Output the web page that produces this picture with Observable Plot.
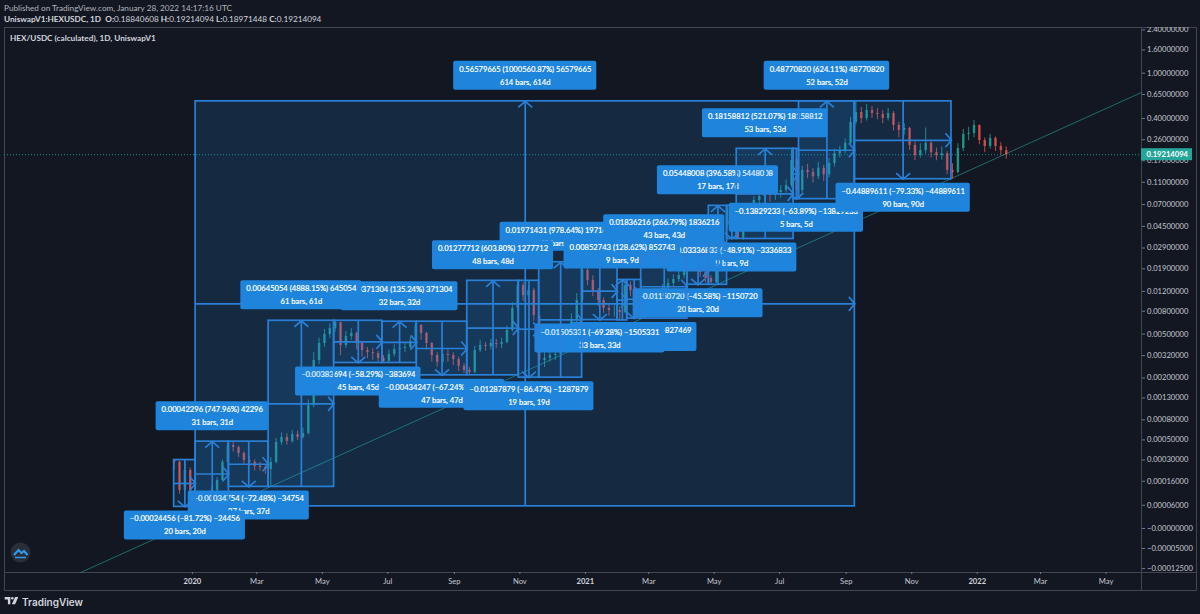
<!DOCTYPE html>
<html><head><meta charset="utf-8">
<script src="https://cdn.jsdelivr.net/npm/d3@7"></script>
<script src="https://cdn.jsdelivr.net/npm/@observablehq/plot@0.6"></script>
<style>
html,body{margin:0;padding:0;background:#131722;width:1200px;height:614px;overflow:hidden;font-family:Lato,sans-serif}
#page{position:relative;width:1200px;height:614px}
.h{position:absolute;left:4px;color:#b2b5be;font-size:8.2px;white-space:nowrap;line-height:10px}
.line{position:absolute;background:#434651}
#chart{position:absolute;left:0;top:27px;z-index:1}
#title{position:absolute;left:10px;top:33px;color:#d1d4dc;font-size:8.2px;font-weight:700;z-index:2;white-space:nowrap}
#brand{position:absolute;left:22px;top:596px;color:#d1d4dc;font:600 10px Inter,sans-serif;white-space:nowrap}
svg.ic{position:absolute;z-index:2}
</style></head><body>
<div id="page">
<div class="h" style="top:3px">Published on TradingView.com, January 28, 2022 14:17:16 UTC</div>
<div class="h" style="top:14px;color:#d1d4dc"><b>UniswapV1:HEXUSDC, 1D</b>&nbsp; <b>O:</b>0.18840608 <b>H:</b>0.19214094 <b>L:</b>0.18971448 <b>C:</b>0.19214094</div>
<div class="line" style="left:4px;top:27px;width:1192px;height:1px"></div>
<div class="line" style="left:4px;top:590px;width:1192px;height:1px"></div>
<div class="line" style="left:4px;top:27px;width:1px;height:563px"></div>
<div class="line" style="left:1196px;top:27px;width:1px;height:564px"></div>
<div class="line" style="left:1141px;top:27px;width:1px;height:563px"></div>
<div class="line" style="left:4px;top:572px;width:1192px;height:1px"></div>
<div id="title">HEX/USDC (calculated), 1D, UniswapV1</div>
<div id="chart"></div>
<svg class="ic" style="left:10px;top:542px" width="21" height="21" viewBox="0 0 21 21"><circle cx="10.5" cy="10.5" r="10" fill="#2a2e39"/><path d="M4 13 L8.5 8 L11.5 11 L14 9 L17.5 13" fill="none" stroke="#2f9be8" stroke-width="2.2"/><path d="M5 15.5 H16" stroke="#2f9be8" stroke-width="1.5"/></svg>
<svg class="ic" style="left:4px;top:597px" width="15" height="8" viewBox="0 0 17 10"><path d="M0 0H7V9H4V3H0Z M13 0H17L13 9H9Z" fill="#d1d4dc"/><circle cx="9.5" cy="1.6" r="1.6" fill="#d1d4dc"/></svg>
<div id="brand">TradingView</div>
</div>
<script>
// ---------- axis ticks ----------
const yTickValues = [2.4,1.6,1,0.65,0.4,0.26,0.17,0.11,0.07,0.045,0.029,0.019,0.012,0.008,0.005,0.0032,0.002,0.0013,0.0008,0.0005,0.0003,0.00016,0.00006,0,-0.00005,-0.000125];
const yTickLabels = ["2.40000000","1.60000000","1.00000000","0.65000000","0.40000000","0.26000000","0.17000000","0.11000000","0.07000000","0.04500000","0.02900000","0.01900000","0.01200000","0.00800000","0.00500000","0.00320000","0.00200000","0.00130000","0.00080000","0.00050000","0.00030000","0.00016000","0.00006000","−0.00000000","−0.00005000","−0.00012500"];
const monthTicks = ["2020-03-01","2020-05-01","2020-07-01","2020-09-01","2020-11-01","2021-03-01","2021-05-01","2021-07-01","2021-09-01","2021-11-01","2022-03-01","2022-05-01"];
const monthLabels = ["Mar","May","Jul","Sep","Nov","Mar","May","Jul","Sep","Nov","Mar","May"];
const yearTicks = ["2020-01-01","2021-01-01","2022-01-01"];
const yearLabels = ["2020","2021","2022"];

// ---------- price (sampled every five days from the first bar) ----------
const firstBar = "2019-12-15";
const barStepDays = 5;
const firstOpen = 0.000299;
const closes = [0.000281,0.000116,0.000223,0.0000949,0.0000655,0.0000835,0.0000949,0.000116,0.000164,0.000281,0.000436,0.000415,0.000356,0.000296,0.000281,0.000251,0.000243,0.00023,0.000281,0.00047,0.00053,0.000482,0.00057,0.00053,0.000583,0.0011,0.00289,0.00412,0.00497,0.00562,0.00635,0.00395,0.00476,0.00507,0.00412,0.00356,0.00341,0.00334,0.00302,0.00284,0.00328,0.00364,0.00371,0.00379,0.0043,0.00598,0.00507,0.00412,0.00321,0.00278,0.00328,0.00321,0.00295,0.00256,0.00235,0.00225,0.00356,0.00395,0.00387,0.00412,0.00404,0.00421,0.00539,0.00846,0.0135,0.011,0.0122,0.00734,0.00289,0.00302,0.00321,0.00328,0.00356,0.00439,0.00662,0.00997,0.0184,0.015,0.0122,0.00997,0.00846,0.00813,0.00813,0.00782,0.0135,0.0122,0.00901,0.00782,0.00901,0.00997,0.0108,0.0127,0.0141,0.0153,0.0166,0.0191,0.0244,0.0203,0.0177,0.0156,0.0144,0.0225,0.0458,0.0646,0.0458,0.0353,0.0458,0.0621,0.0761,0.0825,0.0877,0.0842,0.0895,0.0931,0.103,0.171,0.0931,0.14,0.134,0.123,0.146,0.128,0.161,0.196,0.209,0.242,0.369,0.451,0.4,0.47,0.443,0.434,0.4,0.443,0.347,0.314,0.327,0.232,0.189,0.209,0.242,0.2,0.189,0.196,0.14,0.134,0.218,0.29,0.296,0.347,0.256,0.227,0.267,0.227,0.209,0.19214094];
const highs = [0.000299,0.00029,0.00028,0.00024,0.00011,0.000095,0.000105,0.00013,0.00018,0.0003,0.000479,0.00047,0.00043,0.00037,0.00033,0.0003,0.00028,0.00026,0.00032,0.00052,0.00059,0.00058,0.00063,0.00062,0.00066,0.00125,0.0034,0.0046,0.0055,0.0062,0.00658,0.0063,0.0053,0.0056,0.0052,0.0043,0.0038,0.0037,0.0035,0.0032,0.0036,0.004,0.0041,0.0042,0.0047,0.00646,0.0061,0.0052,0.0042,0.0034,0.0037,0.0036,0.0034,0.0031,0.0027,0.0025,0.0039,0.0044,0.0042,0.0045,0.0045,0.0046,0.0059,0.0095,0.0149,0.0142,0.0135,0.0128,0.0078,0.0034,0.0036,0.0037,0.0041,0.005,0.0076,0.0115,0.0217,0.0205,0.0165,0.0128,0.0105,0.0092,0.0092,0.0088,0.01516,0.0145,0.013,0.0095,0.0098,0.0112,0.0118,0.0138,0.0155,0.0168,0.0182,0.021,0.0252,0.0245,0.0215,0.0185,0.0165,0.0255,0.0515,0.0682,0.067,0.048,0.051,0.068,0.082,0.092,0.098,0.097,0.098,0.103,0.115,0.2165,0.178,0.152,0.158,0.145,0.165,0.155,0.178,0.215,0.228,0.265,0.41,0.5658,0.5,0.53,0.51,0.49,0.47,0.49,0.46,0.37,0.36,0.335,0.25,0.24,0.33,0.255,0.22,0.225,0.205,0.16,0.24,0.32,0.335,0.385,0.35,0.27,0.29,0.275,0.245,0.225];
const lows = [0.000225,0.0001,0.000105,0.000085,0.0000565,0.00006,0.000075,0.000088,0.00011,0.000155,0.00027,0.00037,0.00032,0.00027,0.00025,0.00022,0.00022,0.0002,0.000132,0.00027,0.00044,0.00044,0.00046,0.00049,0.00051,0.00056,0.00105,0.00265,0.0038,0.0046,0.0052,0.0032,0.0037,0.0044,0.0036,0.0031,0.003,0.0029,0.0028,0.002745,0.0028,0.0031,0.0034,0.0034,0.0036,0.0041,0.0044,0.0036,0.0028,0.0025,0.0026,0.0028,0.0026,0.0023,0.0022,0.00212,0.0022,0.0034,0.0035,0.0036,0.0037,0.0037,0.0041,0.0052,0.0082,0.0098,0.0105,0.0065,0.00201,0.0025,0.0028,0.0029,0.0031,0.0034,0.0042,0.0063,0.0095,0.0135,0.0108,0.0088,0.0076,0.0072,0.0071,0.00663,0.0076,0.0108,0.0082,0.00689,0.0074,0.0086,0.0094,0.0103,0.012,0.013,0.0145,0.0155,0.0182,0.0185,0.016,0.0142,0.01373,0.014,0.0215,0.043,0.041,0.0349,0.034,0.044,0.058,0.07,0.074,0.074,0.076,0.08,0.088,0.098,0.0782,0.088,0.118,0.108,0.116,0.112,0.12,0.15,0.18,0.195,0.235,0.35,0.36,0.38,0.4,0.39,0.36,0.38,0.31,0.27,0.285,0.21,0.17,0.18,0.195,0.18,0.17,0.172,0.128,0.1168,0.13,0.205,0.255,0.27,0.235,0.2,0.215,0.205,0.19,0.175];

// ---------- measuring tools (one leg after another) ----------
const legChange = [-0.00024456,0.00042296,-0.00034754,0.00645054,-0.00383694,0.00371304,-0.00434247,0.01277712,-0.01287879,0.01971431,-0.01505331,0.00852743,-0.00827469,0.01836216,-0.0115072,0.05448008,-0.03336833,0.18158812,-0.13829233,0.4877082,-0.44889611];
const legPercent = [-81.72,747.96,-72.48,4888.15,-58.29,135.24,-67.24,603.8,-86.47,978.64,-69.28,128.62,-54.59,266.79,-45.58,396.58,-48.91,521.07,-63.89,624.11,-79.33];
const legBars = [20,31,37,61,45,32,47,48,19,40,33,9,13,43,20,17,9,53,5,52,90];
const legDrawOrder = [16,15,17,18,19,20,14,12,10,9,11,13,5,4,6,8,7,3,2,1,0];
const overallChange = 0.56579665, overallPercent = 1000560.87, overallBars = 614, overallStartBar = 20;

// ---------- trend line and last price ----------
const trendDates = ["2019-09-19","2022-06-03"];
const trendPrices = [-0.0001436,0.677];
const lastPrice = 0.19214094;
const lastPriceLabel = "0.19214094";

// ---------- helpers ----------
const C = 1e-4;
const sym = v => Math.sign(v) * Math.log1p(Math.abs(v) / C);
const unsym = u => Math.sign(u) * C * Math.expm1(Math.abs(u));
const DAY = 864e5;
const D = s => new Date(s + "T00:00:00Z");
const t0 = D(firstBar).getTime();
const barDate = n => new Date(t0 + n * DAY);
const FONT = "Lato, sans-serif";
const LABEL_FS = 7.6, AXIS_FS = 7.6;
const BOX = "#2a80d6", LABEL = "#1f84dc", UP = "#26a69a", DOWN = "#ef5350", AXIS = "#c4c7cf";
const f8 = d3.format(".8f"), f2 = d3.format(".2f");
const ctx = document.createElement("canvas").getContext("2d");
ctx.font = LABEL_FS + "px Lato, sans-serif";

function makeLeg(change, percent, bars, startBar) {
  const a = change / (percent / 100), b = a + change;
  const line1 = `${f8(change)} (${f2(percent)}%) ${d3.format("d")(Math.round(change * 1e8))}`;
  const line2 = `${bars} bars, ${bars}d`;
  return {
    up: change > 0, t0: barDate(startBar), t1: barDate(startBar + bars), tm: barDate(startBar + bars / 2),
    lo: Math.min(a, b), hi: Math.max(a, b), mid: unsym((sym(a) + sym(b)) / 2),
    edge: change > 0 ? Math.max(a, b) : Math.min(a, b),
    line1, line2, w: ctx.measureText(line1).width + 11
  };
}
const cum = [0, ...d3.cumsum(legBars)];
const legs = legChange.map((c, i) => makeLeg(c, legPercent[i], legBars[i], cum[i]));
const overall = makeLeg(overallChange, overallPercent, overallBars, overallStartBar);

const chevron = (dx1, dy1, dx2, dy2) => ({draw(c) { c.moveTo(dx1, dy1); c.lineTo(0, 0); c.lineTo(dx2, dy2); }});
const chevUp = chevron(-7, 6, 7, 6), chevDown = chevron(-7, -6, 7, -6), chevRight = chevron(-6, -7, -6, 7);

function toolMarks(L) {
  const d = [L];
  const s = {stroke: BOX, strokeWidth: 1.7};
  const top = L.up ? -40 : 4;
  const txt = {fill: "#ffffff", stroke: "#ffffff", strokeWidth: 0.2, fontSize: LABEL_FS, fontFamily: FONT};
  return [
    Plot.rect(d, {x1: "t0", x2: "t1", y1: "lo", y2: "hi", fill: "#2196f3", fillOpacity: 0.15, ...s}),
    Plot.ruleY(d, {y: "mid", x1: "t0", x2: "t1", ...s}),
    Plot.ruleX(d, {x: "tm", y1: "lo", y2: "hi", ...s}),
    Plot.dot(d, {x: "t1", y: "mid", r: 5, symbol: chevRight, fill: "none", ...s}),
    Plot.dot(d, {x: "tm", y: "edge", r: 5, symbol: L.up ? chevUp : chevDown, fill: "none", ...s}),
    Plot.rect(d, {x1: "tm", x2: "tm", y1: "edge", y2: "edge", insetLeft: -L.w / 2, insetRight: -L.w / 2,
      insetTop: top, insetBottom: -top - 29, rx: 2, fill: LABEL}),
    Plot.text(d, {x: "tm", y: "edge", text: "line1", dy: top + 8, ...txt}),
    Plot.text(d, {x: "tm", y: "edge", text: "line2", dy: top + 21, ...txt})
  ];
}

const candles = closes.map((c, i) => ({
  date: barDate(i * barStepDays), open: i ? closes[i - 1] : firstOpen, close: c, high: highs[i], low: lows[i],
  color: c >= (i ? closes[i - 1] : firstOpen) ? UP : DOWN
}));
const trend = trendDates.map((d, i) => ({date: D(d), price: trendPrices[i]}));
const xEnd = D("2022-06-03");
const lastDatum = [{x: xEnd, y: lastPrice, t: lastPriceLabel}];
const yLabelOf = new Map(yTickValues.map((v, i) => [v, yTickLabels[i]]));
const monthLabelOf = new Map(monthTicks.map((d, i) => [+D(d), monthLabels[i]]));
const yearLabelOf = new Map(yearTicks.map((d, i) => [+D(d), yearLabels[i]]));

const plot = Plot.plot({
  width: 1200, height: 564, marginLeft: 4, marginRight: 59, marginTop: 0, marginBottom: 19,
  style: {background: "transparent", fontFamily: FONT, fontSize: "8px"},
  x: {type: "utc", domain: [D("2019-07-10"), xEnd], axis: null},
  y: {type: "symlog", constant: C, domain: [-0.0001436, 2.52], range: [545, 0], axis: null},
  marks: [
    Plot.axisY({anchor: "right", ticks: yTickValues, tickFormat: d => yLabelOf.get(d), tickSize: 3, tickPadding: 2.5, stroke: "#787b86", fill: AXIS, label: null, fontSize: AXIS_FS, fontFamily: FONT}),
    Plot.axisX({anchor: "bottom", ticks: monthTicks.map(D), tickFormat: d => monthLabelOf.get(+d), tickSize: 2, tickPadding: 4, stroke: "#787b86", fill: AXIS, label: null, fontSize: AXIS_FS, fontFamily: FONT}),
    Plot.axisX({anchor: "bottom", ticks: yearTicks.map(D), tickFormat: d => yearLabelOf.get(+d), tickSize: 2, tickPadding: 4, stroke: "#787b86", fill: "#d1d4dc", label: null, fontSize: AXIS_FS, fontWeight: 700, fontFamily: FONT}),
    Plot.ruleY([lastPrice], {stroke: UP, strokeWidth: 1, strokeOpacity: 0.8, strokeDasharray: "1 2"}),
    Plot.line(trend, {x: "date", y: "price", stroke: UP, strokeWidth: 1, strokeOpacity: 0.6}),
    Plot.ruleX(candles, {x: "date", y1: "low", y2: "high", stroke: "color", strokeWidth: 1, strokeOpacity: 0.8}),
    Plot.ruleX(candles, {x: "date", y1: "open", y2: "close", stroke: "color", strokeWidth: 2.5, strokeOpacity: 0.75}),
    ...toolMarks(overall),
    ...legDrawOrder.flatMap(i => toolMarks(legs[i])),
    Plot.rect(lastDatum, {x1: "x", x2: "x", y1: "y", y2: "y", insetLeft: 0, insetRight: -51, insetTop: -6, insetBottom: -6, fill: UP}),
    Plot.text(lastDatum, {x: "x", y: "y", text: "t", textAnchor: "start", dx: 5, fill: "#ffffff", fontSize: AXIS_FS, fontWeight: 700, fontFamily: FONT})
  ]
});
document.getElementById("chart").appendChild(plot);
</script>
</body></html>
